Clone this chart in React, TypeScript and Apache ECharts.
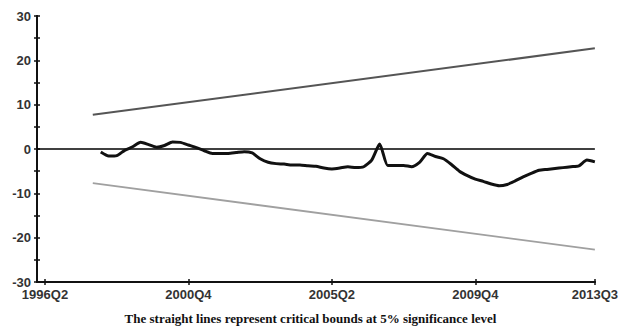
import React, { useEffect, useRef } from "react";
import * as echarts from "echarts";

// quarter index 0 = 1996Q2
const tickIndices = [0, 18, 36, 54, 69];
const tickLabels = ["1996Q2", "2000Q4", "2005Q2", "2009Q4", "2013Q3"];
const cusumStart = 7;
const cusumValues = [
  -0.7, -1.6, -1.5, -0.3, 0.5, 1.5, 1.0, 0.4, 0.8, 1.6, 1.5, 0.9, 0.3, -0.4,
  -1.0, -1.0, -1.0, -0.8, -0.6, -0.9, -2.2, -3.0, -3.3, -3.4, -3.6, -3.6, -3.8,
  -3.9, -4.3, -4.5, -4.3, -4.0, -4.2, -4.0, -2.5, 1.1, -3.7, -3.7, -3.7, -4.0,
  -3.0, -1.0, -1.7, -2.2, -3.5, -5.0, -6.0, -6.8, -7.3, -7.9, -8.3, -8.0, -7.2,
  -6.3, -5.5, -4.8, -4.6, -4.4, -4.2, -4.0, -3.8, -2.5, -2.9,
];
const boundIdx = [6, 69];
const upperBound = [7.7, 22.7];
const lowerBound = [-7.7, -22.7];
const zeroIdx = [-1, 69];
const zeroVals = [0, 0];
const caption = "The straight lines represent critical bounds at 5% significance level";

export default function App() {
  const ref = useRef<HTMLDivElement>(null);
  useEffect(() => {
    if (!ref.current) return;
    const chart = echarts.init(ref.current, null, { renderer: "svg" });
    const labelStyle = {
      fontFamily: "Liberation Sans, Arial, sans-serif",
      fontWeight: "bold" as const,
      color: "#333",
    };
    const axisLine = { show: true, onZero: false, lineStyle: { color: "#111", width: 2 } };
    const tickLine = { color: "#111", width: 1.5 };
    const yBase = {
      type: "value" as const,
      min: -30,
      max: 30,
      interval: 10,
      splitLine: { show: false },
      axisLine,
      minorSplitLine: { show: false },
    };
    const xBase = {
      type: "value" as const,
      min: -1,
      max: 69,
      splitLine: { show: false },
      axisLine,
    };
    chart.setOption({
      animation: false,
      grid: { left: 37, top: 16, width: 560, height: 266 },
      xAxis: [
        {
          ...xBase,
          position: "bottom",
          axisTick: { show: true, length: 3, customValues: tickIndices, lineStyle: tickLine },
          axisLabel: {
            ...labelStyle,
            fontSize: 13,
            margin: 6,
            customValues: tickIndices,
            formatter: (v: number) => tickLabels[tickIndices.indexOf(Math.round(v))] ?? "",
          },
        },
        {
          ...xBase,
          position: "bottom",
          axisTick: { show: true, inside: true, length: 3, customValues: tickIndices, lineStyle: tickLine },
          axisLabel: { show: false },
        },
      ],
      yAxis: [
        {
          ...yBase,
          position: "left",
          axisTick: { show: true, length: 3, lineStyle: tickLine },
          minorTick: { show: true, splitNumber: 2, length: 3, lineStyle: tickLine },
          axisLabel: { ...labelStyle, fontSize: 13, margin: 6 },
        },
        {
          ...yBase,
          position: "left",
          axisTick: { show: true, inside: true, length: 3, lineStyle: tickLine },
          minorTick: { show: true, splitNumber: 2, length: 3, lineStyle: tickLine },
          axisLabel: { show: false },
        },
      ],
      series: [
        {
          type: "line",
          data: zeroIdx.map((x, i) => [x, zeroVals[i]]),
          symbol: "none",
          lineStyle: { color: "#000", width: 1.5 },
          silent: true,
        },
        {
          type: "line",
          data: boundIdx.map((x, i) => [x, upperBound[i]]),
          symbol: "none",
          lineStyle: { color: "#555", width: 2 },
        },
        {
          type: "line",
          data: boundIdx.map((x, i) => [x, lowerBound[i]]),
          symbol: "none",
          lineStyle: { color: "#a0a0a0", width: 1.8 },
        },
        {
          type: "line",
          data: cusumValues.map((v, i) => [cusumStart + i, v]),
          symbol: "none",
          smooth: 0.2,
          lineStyle: { color: "#111", width: 3 },
        },
      ],
      graphic: [
        {
          type: "text",
          left: "center",
          top: 312,
          style: {
            text: caption,
            fontFamily: "Liberation Serif, Times New Roman, serif",
            fontWeight: "bold",
            fontSize: 13,
            fill: "#111",
          },
        },
      ],
    });
    return () => chart.dispose();
  }, []);
  return <div ref={ref} style={{ width: 621, height: 334, position: "absolute", left: 0, top: 0 }} />;
}
